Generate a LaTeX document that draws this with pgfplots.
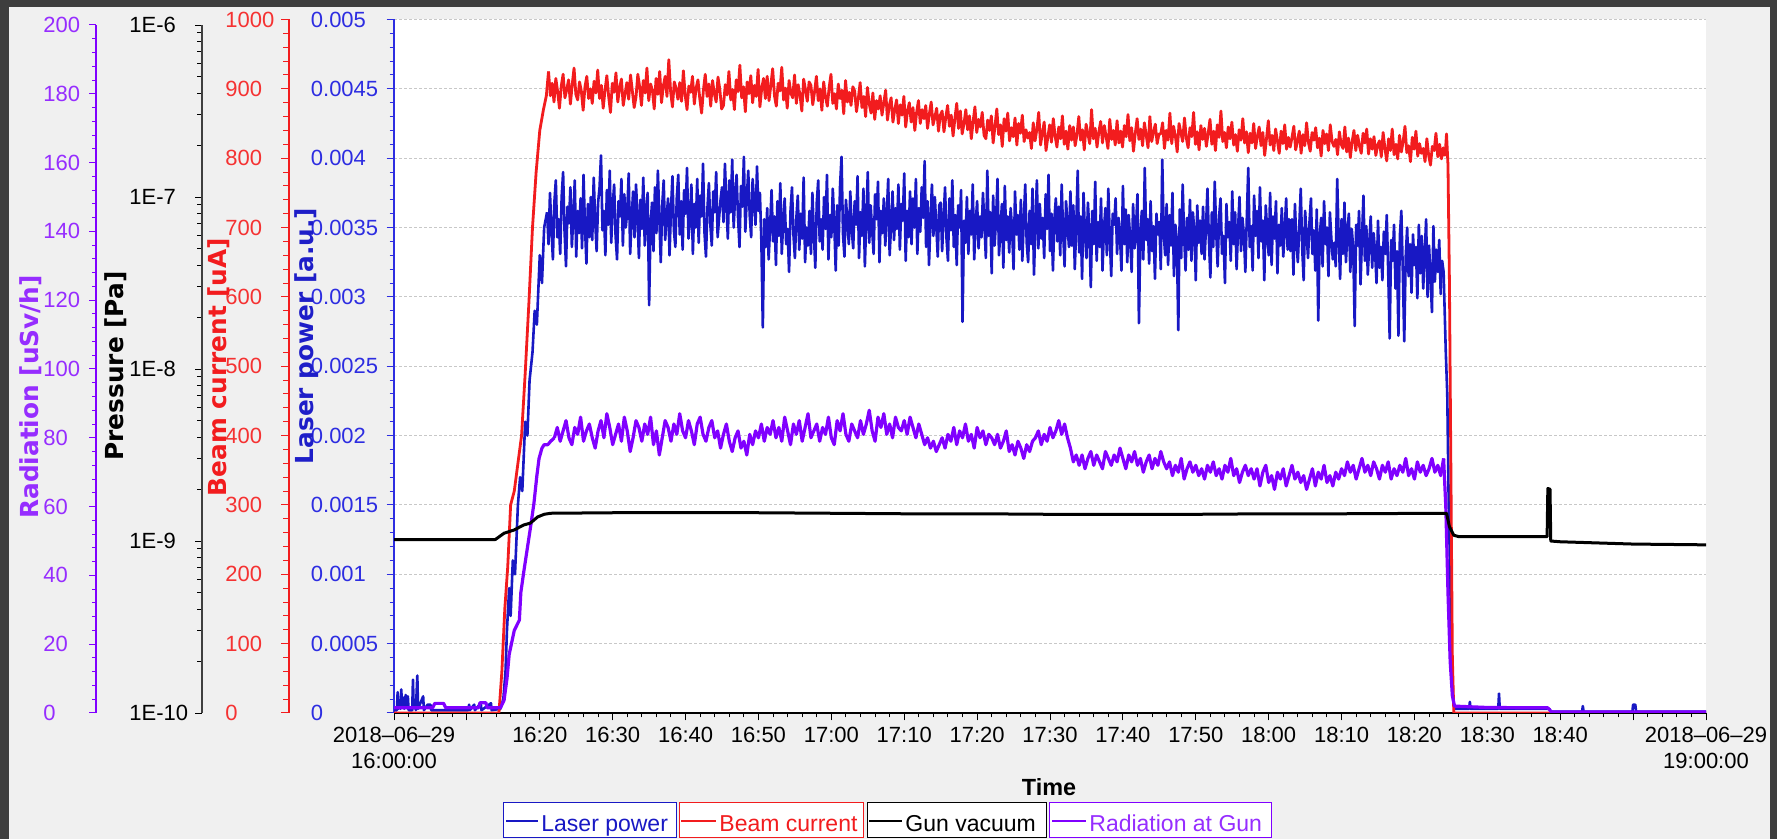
\documentclass[border=0pt]{standalone}
\usepackage{fontspec}
\setmainfont{Liberation Sans}
\newfontfamily\dejavu{DejaVu Sans}
\usepackage{pgfplots}
\usepackage{pgfplotstable}
\pgfplotsset{compat=1.18}

\definecolor{BlueLine}{RGB}{24,24,196}
\definecolor{BlueText}{RGB}{45,45,225}
\definecolor{BlueLab}{RGB}{30,30,200}
\definecolor{RedLine}{RGB}{242,28,30}
\definecolor{RedText}{RGB}{245,50,50}
\definecolor{PurpleLine}{RGB}{128,0,255}
\definecolor{PurpleText}{RGB}{150,45,255}
\definecolor{Panel}{RGB}{240,240,240}
\definecolor{Frame}{RGB}{62,62,62}
\definecolor{GridC}{RGB}{200,200,200}

\newcommand\ticksize{\fontsize{11pt}{13pt}\selectfont}
\newcommand\labsize{\dejavu\bfseries\fontsize{12.4pt}{14pt}\selectfont}
\newcommand\legsize{\fontsize{11.5pt}{13pt}\selectfont}

% Laser power during beam operation, one sample every 0.2 min from 16:21, in units of 1e-5 a.u.
\pgfplotstableread[row sep=\\,header=false]{
361\\338\\375\\349\\327\\368\\384\\343\\356\\331\\372\\390\\347\\322\\365\\353\\379\\336\\358\\384\\329\\362\\346\\371\\335\\388\\351\\324\\367\\343\\
372\\341\\386\\355\\333\\368\\379\\402\\348\\362\\330\\377\\352\\391\\339\\365\\381\\344\\327\\369\\358\\385\\337\\374\\350\\362\\389\\331\\356\\376\\
343\\381\\359\\328\\370\\349\\386\\337\\362\\375\\294\\352\\368\\333\\379\\346\\391\\357\\325\\366\\384\\341\\358\\371\\330\\363\\387\\348\\336\\372\\
388\\345\\369\\334\\377\\360\\393\\342\\355\\381\\331\\367\\350\\385\\339\\373\\358\\396\\346\\329\\364\\382\\352\\337\\376\\361\\390\\343\\357\\370\\
379\\354\\396\\368\\342\\384\\361\\399\\350\\373\\388\\357\\336\\380\\365\\401\\347\\371\\391\\359\\343\\385\\369\\352\\394\\362\\375\\340\\278\\356\\
336\\364\\327\\351\\377\\340\\358\\323\\369\\344\\382\\331\\355\\371\\338\\349\\318\\362\\379\\345\\328\\357\\373\\334\\360\\342\\386\\325\\350\\337\\
362\\331\\375\\346\\321\\368\\384\\340\\356\\334\\372\\349\\388\\327\\359\\343\\378\\353\\319\\366\\337\\381\\401\\345\\329\\370\\355\\338\\376\\348\\
335\\369\\352\\387\\328\\361\\344\\378\\322\\357\\390\\339\\366\\348\\331\\374\\356\\383\\325\\362\\346\\371\\337\\359\\385\\330\\352\\376\\341\\364\\
349\\381\\334\\367\\355\\389\\326\\362\\343\\376\\338\\371\\350\\385\\331\\364\\347\\379\\357\\398\\336\\369\\323\\355\\381\\344\\372\\351\\329\\366\\
368\\333\\357\\379\\342\\326\\371\\348\\384\\336\\359\\323\\366\\350\\377\\282\\355\\339\\372\\331\\362\\345\\381\\327\\353\\369\\335\\358\\343\\375\\
352\\328\\391\\344\\361\\317\\373\\337\\356\\385\\330\\348\\367\\321\\380\\341\\358\\332\\364\\349\\320\\376\\345\\359\\334\\370\\326\\355\\381\\339\\
325\\362\\338\\378\\316\\353\\384\\335\\367\\342\\357\\328\\374\\349\\388\\333\\360\\319\\356\\371\\340\\365\\330\\381\\347\\322\\369\\352\\336\\376\\
337\\366\\320\\351\\391\\332\\358\\313\\375\\345\\328\\368\\347\\307\\362\\338\\383\\326\\354\\336\\371\\319\\349\\364\\330\\378\\343\\315\\360\\352\\
371\\331\\357\\344\\319\\380\\338\\363\\325\\359\\342\\318\\367\\335\\350\\374\\281\\346\\362\\327\\393\\341\\356\\324\\369\\333\\351\\313\\360\\345\\
354\\320\\399\\346\\330\\367\\323\\359\\337\\375\\315\\352\\341\\276\\363\\328\\381\\344\\319\\357\\334\\370\\326\\361\\348\\312\\366\\339\\355\\331\\
365\\327\\350\\378\\341\\314\\361\\336\\383\\347\\322\\358\\371\\331\\344\\310\\367\\343\\354\\326\\376\\338\\361\\320\\349\\372\\333\\357\\345\\318\\
357\\393\\336\\351\\319\\373\\344\\362\\328\\379\\340\\355\\312\\366\\347\\330\\375\\323\\358\\342\\369\\317\\352\\337\\364\\329\\348\\371\\334\\356\\
333\\356\\316\\367\\340\\325\\351\\378\\335\\312\\362\\345\\328\\354\\371\\331\\348\\319\\363\\283\\344\\357\\322\\369\\338\\350\\315\\361\\342\\327\\
339\\322\\385\\344\\313\\356\\331\\368\\325\\347\\360\\318\\349\\335\\279\\352\\337\\362\\309\\342\\373\\326\\351\\316\\339\\358\\321\\346\\332\\310\\
355\\321\\336\\312\\347\\331\\359\\318\\270\\341\\326\\352\\306\\333\\272\\344\\362\\319\\268\\329\\350\\315\\338\\303\\345\\323\\336\\299\\352\\317\\
344\\306\\330\\356\\300\\337\\315\\289\\351\\311\\334\\318\\341\\302\\326\\318\\
}\laserrun

% Beam current in uA, one sample every 0.25 min from 16:21:12
\pgfplotstableread[row sep=\\,header=false]{
925\\890\\908\\881\\915\\896\\872\\904\\921\\887\\899\\913\\878\\906\\930\\892\\884\\910\\897\\869\\903\\918\\886\\900\\
879\\911\\894\\927\\886\\905\\872\\898\\919\\889\\866\\908\\895\\923\\881\\902\\914\\876\\893\\909\\885\\920\\897\\873\\
888\\921\\903\\876\\912\\894\\930\\883\\907\\898\\871\\915\\892\\925\\880\\904\\918\\889\\942\\896\\874\\910\\901\\885\\
909\\882\\926\\891\\870\\904\\895\\918\\878\\901\\913\\886\\865\\898\\921\\889\\907\\875\\912\\893\\881\\917\\899\\871\\
876\\906\\891\\925\\884\\899\\870\\913\\896\\934\\887\\903\\867\\910\\893\\919\\880\\905\\889\\928\\874\\901\\915\\886\\
918\\883\\905\\929\\890\\875\\908\\897\\931\\884\\901\\872\\912\\894\\887\\920\\879\\906\\891\\868\\914\\899\\882\\910\\
905\\877\\896\\918\\883\\900\\869\\910\\888\\875\\902\\921\\879\\893\\871\\907\\886\\898\\864\\912\\881\\895\\876\\903\\
897\\867\\886\\909\\873\\889\\860\\902\\878\\865\\894\\856\\883\\871\\890\\862\\880\\898\\855\\876\\887\\852\\870\\884\\
850\\877\\862\\889\\845\\868\\880\\852\\873\\840\\866\\883\\850\\870\\857\\876\\843\\864\\881\\848\\859\\872\\839\\862\\
868\\838\\859\\876\\846\\862\\832\\857\\879\\843\\868\\835\\850\\870\\841\\861\\828\\853\\874\\837\\856\\845\\866\\833\\
828\\855\\840\\861\\822\\846\\871\\834\\848\\817\\857\\839\\865\\825\\844\\831\\858\\819\\850\\836\\862\\824\\841\\829\\
837\\814\\851\\825\\842\\866\\819\\836\\852\\811\\830\\848\\823\\857\\832\\816\\845\\828\\861\\820\\839\\813\\847\\826\\
845\\818\\834\\860\\826\\841\\812\\849\\835\\821\\870\\828\\843\\816\\838\\853\\822\\847\\831\\814\\856\\827\\840\\819\\
854\\822\\839\\816\\847\\831\\863\\825\\844\\810\\836\\857\\827\\842\\818\\851\\833\\815\\860\\824\\838\\849\\821\\835\\
835\\851\\814\\840\\826\\865\\821\\846\\832\\809\\850\\837\\824\\858\\829\\815\\844\\831\\866\\820\\838\\812\\847\\827\\
843\\817\\836\\856\\820\\839\\811\\848\\830\\868\\824\\837\\815\\845\\828\\852\\819\\834\\810\\841\\826\\857\\822\\838\\
808\\836\\822\\850\\814\\832\\845\\818\\837\\804\\828\\854\\819\\833\\811\\842\\825\\807\\839\\821\\848\\813\\830\\816\\
830\\846\\812\\825\\839\\807\\834\\818\\851\\823\\810\\837\\826\\844\\815\\829\\803\\840\\821\\835\\811\\848\\824\\817\\
827\\805\\838\\820\\814\\845\\809\\829\\801\\824\\840\\811\\833\\818\\807\\836\\822\\842\\806\\828\\813\\831\\804\\819\\
825\\802\\837\\814\\796\\828\\811\\842\\805\\820\\799\\833\\809\\824\\846\\808\\818\\795\\830\\813\\839\\803\\821\\807\\
814\\795\\828\\804\\790\\817\\811\\836\\802\\820\\799\\815\\803\\
}\beamrun

% Radiation at the gun in uSv/h, one sample every 0.4 min from 16:22
\pgfplotstableread[row sep=\\,header=false]{
80\\83\\79\\82\\85\\80\\78\\83\\81\\86\\79\\82\\84\\80\\77\\
82\\85\\80\\87\\83\\78\\81\\84\\79\\86\\82\\76\\80\\85\\83\\
79\\84\\81\\86\\78\\82\\75\\80\\85\\83\\79\\84\\81\\87\\82\\
80\\85\\82\\78\\84\\86\\81\\79\\83\\85\\80\\82\\77\\81\\84\\
79\\76\\80\\82\\77\\79\\75\\81\\78\\82\\80\\84\\79\\83\\81\\
85\\80\\83\\79\\86\\82\\78\\84\\81\\85\\79\\83\\87\\80\\82\\
84\\79\\83\\81\\86\\80\\78\\85\\82\\87\\81\\79\\84\\82\\80\\
85\\81\\84\\88\\82\\79\\86\\83\\87\\81\\84\\80\\86\\83\\82\\
85\\81\\86\\83\\80\\84\\81\\78\\80\\77\\79\\76\\78\\80\\77\\
81\\79\\83\\78\\82\\80\\84\\79\\81\\77\\83\\80\\82\\78\\81\\
80\\78\\81\\77\\79\\82\\76\\78\\75\\79\\77\\74\\78\\76\\79\\
80\\82\\78\\81\\79\\83\\80\\82\\85\\81\\84\\80\\77\\73\\75\\
72\\75\\71\\74\\76\\72\\75\\73\\71\\76\\74\\72\\75\\73\\77\\
74\\71\\75\\73\\76\\72\\74\\70\\73\\75\\71\\74\\72\\76\\73\\
71\\73\\69\\72\\70\\74\\68\\71\\73\\70\\72\\69\\71\\68\\72\\
70\\73\\69\\71\\68\\72\\70\\74\\69\\71\\67\\70\\72\\69\\71\\
68\\71\\66\\70\\72\\67\\69\\65\\70\\68\\71\\66\\69\\72\\68\\
70\\67\\69\\65\\68\\71\\66\\70\\68\\72\\67\\69\\66\\70\\68\\
71\\69\\73\\70\\72\\68\\71\\74\\70\\72\\69\\73\\71\\68\\72\\
70\\73\\68\\71\\69\\72\\70\\74\\69\\71\\68\\73\\70\\72\\69\\
71\\74\\70\\72\\69\\74\\
}\radrun

\pgfplotsset{
  panel/.style={scale only axis, anchor=south west, xmin=0, xmax=180, width=656pt},
  sideaxis/.style={scale only axis, anchor=south west, width=10pt, xmin=0, xmax=1,
    axis x line=none, axis y line*=left, tick align=outside,
    yticklabel style={font=\ticksize, anchor=west, inner sep=0pt}},
  every axis plot/.append style={line join=round},
}

\begin{document}
\begin{tikzpicture}
\useasboundingbox (0,0) rectangle (888.5pt,419.5pt);
\fill[Frame] (0,0) rectangle (888.5pt,419.5pt);
\fill[Panel] (4.5pt,0) rectangle (885pt,416pt);

% Time axis, laser power scale and grid
\begin{axis}[panel, at={(197pt,63pt)}, height=346.75pt,
  ymin=0, ymax=0.005, scaled y ticks=false,
  axis x line*=bottom, axis y line*=left,
  axis background/.style={fill=white},
  x axis line style={black, line width=0.6pt},
  y axis line style={BlueText, line width=1pt},
  tick align=outside, major tick length=3.75pt, minor tick length=2.25pt,
  xtick={0,10,...,180}, minor x tick num=4,
  xticklabels={{2018–06–29\\16:00:00},{},16:20,16:30,16:40,16:50,17:00,17:10,17:20,17:30,17:40,17:50,18:00,18:10,18:20,18:30,18:40,{},{2018–06–29\\19:00:00}},
  xticklabel style={font=\ticksize, align=center, text=black},
  xtick style={black, line width=0.5pt},
  ytick={0,0.0005,0.001,0.0015,0.002,0.0025,0.003,0.0035,0.004,0.0045,0.005},
  yticklabels={0,0.0005,0.001,0.0015,0.002,0.0025,0.003,0.0035,0.004,0.0045,0.005},
  minor y tick num=4,
  ytick style={BlueText, line width=0.5pt},
  yticklabel style={font=\ticksize, text=BlueText, anchor=west, inner sep=0pt, xshift=-38pt},
  ymajorgrids, major grid style={GridC, dash pattern=on 1.5pt off 1pt, line width=0.5pt},
]
\addplot[BlueLine, line width=1.3pt] coordinates {
(0,0.00002)(0.4,0.00002)(0.5,0.00015)(0.6,0.00003)(0.8,0.00009)(0.9,0.00003)(1.0,0.00017)(1.1,0.00004)
(1.3,0.00011)(1.4,0.00003)(1.6,0.00013)(1.7,0.00004)(1.9,0.00012)(2.0,0.00002)(2.5,0.00002)(2.6,0.00024)
(2.7,0.00004)(2.9,0.00006)(3.0,0.00002)(3.2,0.00027)(3.3,0.00003)(4.0,0.00012)(4.1,0.00002)(4.6,0.00006)
(5.0,0.00006)(5.1,0.00002)(10.2,0.00002)(10.3,0.00006)(10.4,0.00002)(11.0,0.00006)(11.1,0.00002)
(11.9,0.00007)(12.0,0.00002)(13.3,0.00007)(13.4,0.00002)(14.6,0.00003)(15.0,0.0001)(15.3,0.0003)
(15.5,0.0006)(15.8,0.0009)(16.0,0.0007)(16.3,0.0011)(16.6,0.0010)(17.0,0.0015)(17.3,0.0017)(17.6,0.0016)
(18.0,0.0021)(18.3,0.0020)(18.6,0.0024)(19.0,0.0026)(19.3,0.0029)(19.6,0.0028)(20.0,0.0033)(20.3,0.0031)
(20.6,0.0035)(21.0,0.00361)};
\addplot[BlueLine, line width=1.3pt] table[x index=0, y index=0, x expr=21+0.2*\coordindex, y expr=\thisrowno{0}*1e-5] {\laserrun};
\addplot[BlueLine, line width=1.3pt] coordinates {
(144.0,0.00318)(144.3,0.0026)(144.5,0.0023)(144.7,0.0015)(144.9,0.0010)(145.1,0.0004)(145.3,0.0001)
(145.5,0.00003)(147.5,0.00003)(147.6,0.00008)(147.7,0.00003)(151.5,0.00003)(151.6,0.00014)(151.7,0.00003)
(158.5,0.00003)(158.7,0.00001)(163.0,0.00001)(163.1,0.00005)(163.2,0.00001)(169.9,0.00001)(170.0,0.00006)
(170.3,0.00006)(170.4,0.00001)(180,0.00001)};
\end{axis}

% Beam current
\begin{axis}[panel, at={(197pt,63pt)}, height=346.75pt, ymin=0, ymax=1000, hide axis]
\addplot[RedLine, line width=1.4pt] coordinates {
(0,0)(14.4,0)(14.8,60)(15.2,150)(15.6,210)(16.0,300)(16.5,320)(17.0,360)(17.5,400)(18.0,490)
(18.5,590)(19.0,700)(19.5,780)(20.0,840)(20.5,870)(20.9,890)(21.2,925)};
\addplot[RedLine, line width=1.4pt] table[x index=0, y index=0, x expr=21.2+0.25*\coordindex, y expr=\thisrowno{0}] {\beamrun};
\addplot[RedLine, line width=1.4pt] coordinates {
(144.2,803)(144.4,835)(144.6,790)(144.8,620)(145.0,350)(145.2,80)(145.4,0)(180,0)};
\end{axis}

% Radiation at gun
\begin{axis}[panel, at={(197pt,63pt)}, height=344pt, ymin=0, ymax=200, hide axis]
\addplot[PurpleLine, line width=1.6pt] coordinates {
(0,1.5)(5.3,1.5)(5.6,2.8)(6.8,2.8)(7.1,1.5)(11.6,1.5)(11.8,3)(12.6,3)(12.8,1.5)(14.6,1.5)
(15.1,3.7)(15.5,10)(15.8,17)(16.2,21)(16.5,24)(17.2,27)(17.4,35)(17.8,41)(18.3,48)(18.8,55)
(19.2,61)(19.6,69)(19.9,74)(20.3,77)(20.6,78)(21.1,78)(21.5,79)(22.0,80)};
\addplot[PurpleLine, line width=1.6pt] table[x index=0, y index=0, x expr=22+0.4*\coordindex, y expr=\thisrowno{0}] {\radrun};
\addplot[PurpleLine, line width=1.6pt] coordinates {
(144.0,74)(144.3,60)(144.6,35)(144.9,15)(145.2,5)(145.5,2)(150,1.6)(158.3,1.5)(158.8,0.3)(180,0.3)};
\end{axis}

% Gun vacuum
\begin{axis}[panel, at={(197pt,63pt)}, height=344pt, ymode=log, ymin=1e-10, ymax=1e-6, hide axis]
\addplot[black, line width=1.5pt] coordinates {
(0,1.02e-9)(13.9,1.02e-9)(15.1,1.11e-9)(16.5,1.16e-9)(17.8,1.24e-9)(18.7,1.27e-9)(19.7,1.38e-9)
(20.6,1.43e-9)(21.5,1.45e-9)(30,1.46e-9)(40,1.46e-9)(50,1.46e-9)(60,1.45e-9)(70,1.44e-9)(80,1.44e-9)
(90,1.43e-9)(100,1.43e-9)(110,1.43e-9)(120,1.44e-9)(130,1.44e-9)(144.4,1.45e-9)(144.8,1.21e-9)
(145.4,1.08e-9)(146.1,1.06e-9)(150,1.06e-9)(158.2,1.06e-9)(158.3,2.02e-9)(158.6,2.0e-9)(158.7,1.0e-9)
(160,0.99e-9)(170,0.96e-9)(180,0.95e-9)};
\end{axis}

% Beam current scale
\begin{axis}[sideaxis, at={(144.5pt,63pt)}, height=346.75pt, ymin=0, ymax=1000,
  y axis line style={RedLine, line width=1pt},
  major tick length=4pt, minor tick length=3pt,
  ytick={0,100,...,1000}, yticklabels={0,100,200,300,400,500,600,700,800,900,1000},
  minor y tick num=4, ytick style={RedLine, line width=0.5pt},
  yticklabel style={text=RedText, xshift=-28pt}]
\end{axis}

% Pressure scale
\begin{axis}[sideaxis, at={(101pt,63pt)}, height=344pt, ymode=log, ymin=1e-10, ymax=1e-6,
  y axis line style={black!75, line width=1pt},
  major tick length=3.5pt, minor tick length=2.5pt,
  ytick={1e-10,1e-9,1e-8,1e-7,1e-6}, yticklabels={1E-10,1E-9,1E-8,1E-7,1E-6},
  minor ytick={2e-10,3e-10,4e-10,5e-10,6e-10,7e-10,8e-10,9e-10,2e-9,3e-9,4e-9,5e-9,6e-9,7e-9,8e-9,9e-9,
    2e-8,3e-8,4e-8,5e-8,6e-8,7e-8,8e-8,9e-8,2e-7,3e-7,4e-7,5e-7,6e-7,7e-7,8e-7,9e-7},
  ytick style={black, line width=0.5pt},
  yticklabel style={text=black, xshift=-33pt}]
\end{axis}

% Radiation scale
\begin{axis}[sideaxis, at={(48pt,63pt)}, height=344pt, ymin=0, ymax=200,
  y axis line style={PurpleLine, line width=1pt},
  major tick length=3.5pt, minor tick length=2pt,
  ytick={0,20,...,200}, yticklabels={0,20,40,60,80,100,120,140,160,180,200},
  minor y tick num=4, ytick style={PurpleLine, line width=0.5pt},
  yticklabel style={text=PurpleText, xshift=-23pt}]
\end{axis}

\begin{scope}[x=0.5pt, y=-0.5pt, shift={(0pt,419.5pt)}]
\node[rotate=90, text=PurpleText, font=\labsize] at (31,397) {Radiation [uSv/h]};
\node[rotate=90, text=black, font=\labsize] at (116,366) {Pressure [Pa]};
\node[rotate=90, text=RedLine, font=\labsize] at (219,367) {Beam current [uA]};
\node[rotate=90, text=BlueLab, font=\labsize] at (307,336) {Laser power [a.u.]};
\node[font=\fontsize{11.7pt}{14pt}\selectfont\bfseries] at (1049,787) {Time};

% legend
\draw[BlueLine, line width=0.5pt, fill=white] (503,803) rectangle (676,838);
\draw[BlueLine, line width=1pt] (506,821.5) -- (538,821.5);
\node[anchor=base west, inner sep=0pt, text=BlueLine, font=\legsize] at (541,831.5) {Laser power};
\draw[RedLine, line width=0.5pt, fill=white] (679,803) rectangle (863,838);
\draw[RedLine, line width=1pt] (681,821.5) -- (716,821.5);
\node[anchor=base west, inner sep=0pt, text=RedLine, font=\legsize] at (719,831.5) {Beam current};
\draw[black, line width=0.5pt, fill=white] (867,803) rectangle (1046,838);
\draw[black, line width=1pt] (869,821.5) -- (902,821.5);
\node[anchor=base west, inner sep=0pt, text=black, font=\legsize] at (905,831.5) {Gun vacuum};
\draw[PurpleLine, line width=0.5pt, fill=white] (1049,803) rectangle (1271,838);
\draw[PurpleLine, line width=1pt] (1052,821.5) -- (1086,821.5);
\node[anchor=base west, inner sep=0pt, text=PurpleText, font=\legsize] at (1089,831.5) {Radiation at Gun};
\end{scope}
\end{tikzpicture}
\end{document}
